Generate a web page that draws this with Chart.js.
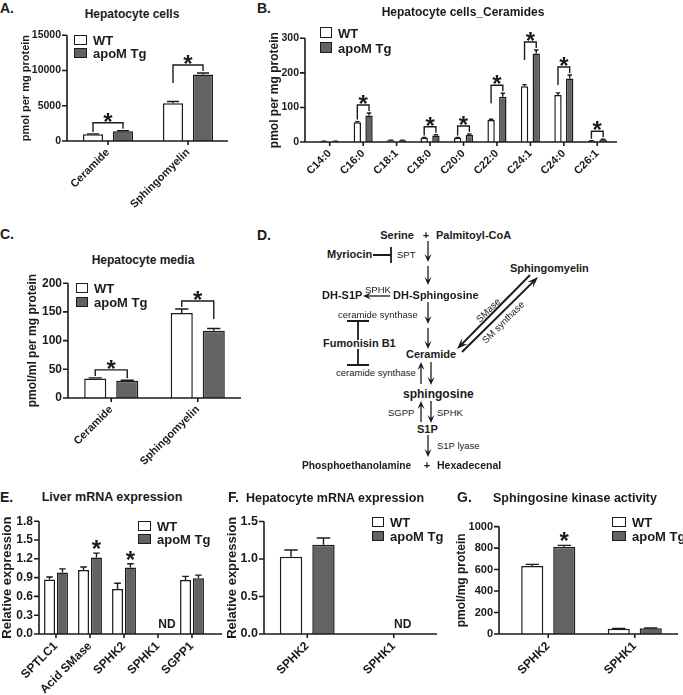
<!DOCTYPE html>
<html>
<head>
<meta charset="utf-8">
<script src="https://cdn.jsdelivr.net/npm/chart.js@4.4.0/dist/chart.umd.min.js"></script>
<style>
  body { margin: 0; background: #fff; width: 683px; height: 695px; position: relative; overflow: hidden;
         font-family: "Liberation Sans", Arial, sans-serif; }
  canvas { position: absolute; }
  .lbl { position: absolute; white-space: nowrap; line-height: 1; color: #1b1b1b; }
  .box { position: absolute; box-sizing: border-box; border: 1.5px solid #1b1b1b; }
  svg { position: absolute; left: 0; top: 0; }
</style>
</head>
<body>
<script>
const INK = '#1b1b1b';
const WT_FILL = '#ffffff';
const TG_FILL = '#636363';
const FONT = '"Liberation Sans", Arial, sans-serif';

// A. Hepatocyte cells
const catsA = ['Ceramide', 'Sphingomyelin'];
const wtA = [950, 5350];
const wtErrA = [60, 250];
const tgA = [1400, 9450];
const tgErrA = [60, 200];
const ticksA = [0, 5000, 10000, 15000];

// B. Hepatocyte cells_Ceramides
const catsB = ['C14:0', 'C16:0', 'C18:1', 'C18:0', 'C20:0', 'C22:0', 'C24:1', 'C24:0', 'C26:1'];
const wtB = [2, 57, 5, 12, 12, 64, 161, 136, 3];
const wtErrB = [0.5, 2, 0.5, 1, 1, 2, 5, 6, 0.5];
const tgB = [2, 77, 5, 19, 21, 131, 256, 184, 7];
const tgErrB = [0.5, 7, 0.5, 2, 2, 10, 10, 10, 1];
const sigB = [1, 3, 4, 5, 6, 7, 8];
const ticksB = [0, 100, 200, 300];

// C. Hepatocyte media
const catsC = ['Ceramide', 'Sphingomyelin'];
const wtC = [34, 148];
const wtErrC = [1, 7];
const tgC = [30, 117];
const tgErrC = [1, 4];
const ticksC = [0, 50, 100, 150, 200];

// E. Liver mRNA expression
const catsE = ['SPTLC1', 'Acid SMase', 'SPHK2', 'SPHK1', 'SGPP1'];
const wtE = [0.87, 1.02, 0.72, null, 0.86];
const wtErrE = [0.04, 0.05, 0.09, null, 0.06];
const tgE = [0.98, 1.22, 1.06, null, 0.89];
const tgErrE = [0.06, 0.07, 0.06, null, 0.05];
const ticksE = [0, 0.3, 0.6, 0.9, 1.2, 1.5, 1.8];

// F. Hepatocyte mRNA expression
const catsF = ['SPHK2', 'SPHK1'];
const wtF = [1.03, null];
const wtErrF = [0.09, null];
const tgF = [1.19, null];
const tgErrF = [0.09, null];
const ticksF = [0, 0.5, 1.0, 1.5];

// G. Sphingosine kinase activity
const catsG = ['SPHK2', 'SPHK1'];
const wtG = [632, 48];
const wtErrG = [16, 3];
const tgG = [813, 53];
const tgErrG = [12, 3];
const ticksG = [0, 200, 400, 600, 800, 1000];

// axes, error bars, brackets, stars, ND
const marks = {
  id: 'marks',
  afterDatasetsDraw(chart, args, o) {
    const ctx = chart.ctx, ys = chart.scales.y, xs = chart.scales.x, a = chart.chartArea;
    const top = (di, j) => {
      const ds = chart.data.datasets[di];
      return ys.getPixelForValue(ds.data[j] + ds.err[j]);
    };
    const star = (x, y) => {
      ctx.font = 'bold 24px ' + FONT;
      ctx.textAlign = 'center';
      ctx.textBaseline = 'alphabetic';
      ctx.fillText('*', x, y + 14);
    };
    ctx.save();
    ctx.strokeStyle = INK;
    ctx.fillStyle = INK;
    ctx.lineWidth = 1.6;
    const x0 = a.left - (o.gapL || 0), x1 = a.right + (o.gapR || 0);
    ctx.beginPath();
    ctx.moveTo(x0, a.top);
    ctx.lineTo(x0, a.bottom);
    ctx.lineTo(x1, a.bottom);
    ys.ticks.forEach(t => {
      const y = ys.getPixelForValue(t.value);
      ctx.moveTo(x0 - 5, y); ctx.lineTo(x0, y);
    });
    xs.ticks.forEach((t, i) => {
      const x = xs.getPixelForTick(i);
      ctx.moveTo(x, a.bottom); ctx.lineTo(x, a.bottom + 4);
    });
    ctx.stroke();

    ctx.lineWidth = 1.4;
    chart.data.datasets.forEach((ds, di) => {
      chart.getDatasetMeta(di).data.forEach((bar, j) => {
        if (ds.data[j] == null) return;
        const yt = top(di, j), hw = bar.width * 0.3;
        ctx.beginPath();
        ctx.moveTo(bar.x, bar.y); ctx.lineTo(bar.x, yt);
        ctx.moveTo(bar.x - hw, yt); ctx.lineTo(bar.x + hw, yt);
        ctx.stroke();
      });
    });

    (o.brackets || []).forEach(j => {
      const b0 = chart.getDatasetMeta(0).data[j], b1 = chart.getDatasetMeta(1).data[j];
      const t0 = top(0, j), t1 = top(1, j);
      const hy = Math.min(t0, t1) - 8;
      ctx.beginPath();
      ctx.moveTo(b0.x, Math.min(t0 - 2, hy + 18));
      ctx.lineTo(b0.x, hy);
      ctx.lineTo(b1.x, hy);
      ctx.lineTo(b1.x, Math.min(t1 - 2, hy + 18));
      ctx.stroke();
      star((b0.x + b1.x) / 2, hy - 7);
    });

    (o.stars || []).forEach(([di, j]) => {
      const b = chart.getDatasetMeta(di).data[j];
      star(b.x, top(di, j) - 10);
    });

    (o.nd || []).forEach(j => {
      ctx.font = 'bold 12px ' + FONT;
      ctx.textAlign = 'center';
      ctx.textBaseline = 'middle';
      ctx.fillText('ND', xs.getPixelForTick(j) + 9, a.bottom - 9);
    });
    ctx.restore();
  }
};

function panel(box, area, cfg) {
  const cv = document.createElement('canvas');
  cv.width = box.w; cv.height = box.h;
  cv.style.left = box.x + 'px'; cv.style.top = box.y + 'px';
  document.body.appendChild(cv);
  const gapL = cfg.gapL || 0;
  new Chart(cv, {
    type: 'bar',
    data: {
      labels: cfg.labels,
      datasets: [
        { label: 'WT', data: cfg.wt, err: cfg.wtErr, backgroundColor: WT_FILL, borderColor: INK, borderWidth: 1.5,
          categoryPercentage: cfg.cat, barPercentage: cfg.bar },
        { label: 'apoM Tg', data: cfg.tg, err: cfg.tgErr, backgroundColor: TG_FILL, borderColor: INK, borderWidth: 1.5,
          categoryPercentage: cfg.cat, barPercentage: cfg.bar }
      ]
    },
    options: {
      responsive: false,
      animation: false,
      layout: { padding: { left: 0, top: area.t - box.y, right: box.x + box.w - area.r, bottom: 0 } },
      plugins: {
        legend: { display: false },
        tooltip: { enabled: false },
        marks: { gapL: gapL, gapR: cfg.gapR || 0, brackets: cfg.brackets, stars: cfg.stars, nd: cfg.nd }
      },
      scales: {
        x: {
          grid: { display: false, drawTicks: false },
          border: { display: false },
          ticks: { color: INK, font: { family: FONT, weight: 'bold', size: cfg.xFont }, autoSkip: false,
                   minRotation: 45, maxRotation: 45, padding: 5 },
          afterFit: s => { s.height = box.y + box.h - area.b; }
        },
        y: {
          min: 0,
          max: cfg.ticks[cfg.ticks.length - 1],
          grid: { display: false, drawTicks: false },
          border: { display: false },
          ticks: { color: INK, font: { family: FONT, weight: 'bold', size: cfg.yFont }, padding: gapL + 6,
                   callback: v => cfg.dec ? v.toFixed(cfg.dec) : String(v) },
          afterBuildTicks: s => { s.ticks = cfg.ticks.map(v => ({ value: v })); },
          title: { display: true, text: cfg.yTitle, color: INK,
                   font: { family: FONT, weight: 'bold', size: cfg.tFont },
                   padding: { top: cfg.titleX - box.x - 0.6 * cfg.tFont, bottom: 0 } },
          afterFit: s => { s.width = area.l - box.x; }
        }
      }
    },
    plugins: [marks]
  });
}

function label(str, x, y, size, opt = {}) {
  const d = document.createElement('div');
  d.className = 'lbl';
  d.textContent = str;
  d.style.font = (opt.weight || 'bold') + ' ' + size + 'px ' + FONT;
  d.style.left = x + 'px';
  d.style.top = y + 'px';
  const tx = opt.left ? '0' : '-50%';
  d.style.transform = 'translate(' + tx + ', -50%)' + (opt.rot ? ' rotate(' + opt.rot + 'deg)' : '');
  document.body.appendChild(d);
}

function legend(x, y, w, h, gap) {
  [[WT_FILL, 'WT'], [TG_FILL, 'apoM Tg']].forEach(([fill, name], i) => {
    const b = document.createElement('div');
    b.className = 'box';
    b.style.left = x + 'px'; b.style.top = (y + i * gap) + 'px';
    b.style.width = w + 'px'; b.style.height = h + 'px';
    b.style.background = fill;
    document.body.appendChild(b);
    label(name, x + w + 6, y + i * gap + h / 2, 13, { left: true });
  });
}

// charts
panel({ x: 0, y: 22, w: 235, h: 200 }, { l: 68, t: 35, r: 228, b: 141 },
  { labels: catsA, wt: wtA, wtErr: wtErrA, tg: tgA, tgErr: tgErrA, ticks: ticksA, cat: 0.75, bar: 0.67,
    gapL: 1, yFont: 10.5, xFont: 11, tFont: 11, titleX: 26, yTitle: 'pmol per mg protein', brackets: [0, 1] });

panel({ x: 262, y: 18, w: 421, h: 200 }, { l: 313, t: 28, r: 614, b: 142 },
  { labels: catsB, wt: wtB, wtErr: wtErrB, tg: tgB, tgErr: tgErrB, ticks: ticksB, cat: 0.7, bar: 0.63,
    gapL: 8, gapR: 3, yFont: 10.5, xFont: 11, tFont: 12, titleX: 275, yTitle: 'pmol per mg protein', brackets: sigB });

panel({ x: 0, y: 270, w: 248, h: 200 }, { l: 68, t: 283, r: 241, b: 398 },
  { labels: catsC, wt: wtC, wtErr: wtErrC, tg: tgC, tgErr: tgErrC, ticks: ticksC, cat: 0.74, bar: 0.69,
    yFont: 12, xFont: 11, tFont: 12, titleX: 33, yTitle: 'pmol/ml per mg protein', brackets: [0, 1] });

panel({ x: -6, y: 508, w: 232, h: 187 }, { l: 39, t: 520, r: 209, b: 634 },
  { labels: catsE, wt: wtE, wtErr: wtErrE, tg: tgE, tgErr: tgErrE, ticks: ticksE, cat: 0.76, bar: 0.85,
    gapR: 13, dec: 1, yFont: 12, xFont: 12, tFont: 13, titleX: 7, yTitle: 'Relative expression',
    stars: [[1, 1], [1, 2]], nd: [3] });

panel({ x: 222, y: 508, w: 230, h: 187 }, { l: 264, t: 521, r: 437, b: 634 },
  { labels: catsF, wt: wtF, wtErr: wtErrF, tg: tgF, tgErr: tgErrF, ticks: ticksF, cat: 0.75, bar: 0.69,
    dec: 1, yFont: 12.5, xFont: 12, tFont: 13, titleX: 232, yTitle: 'Relative expression', nd: [1] });

panel({ x: 450, y: 508, w: 233, h: 187 }, { l: 505, t: 520, r: 678, b: 634 },
  { labels: catsG, wt: wtG, wtErr: wtErrG, tg: tgG, tgErr: tgErrG, ticks: ticksG, cat: 0.74, bar: 0.69,
    gapL: 6, yFont: 11, xFont: 12, tFont: 12, titleX: 462, yTitle: 'pmol/mg protein', stars: [[1, 0]] });

// panel letters and titles
label('A.', 0, 8, 14, { left: true });
label('B.', 257, 8, 14, { left: true });
label('C.', 0, 234, 14, { left: true });
label('D.', 257, 235, 14, { left: true });
label('E.', 0, 497, 14, { left: true });
label('F.', 228, 497, 14, { left: true });
label('G.', 457, 497, 14, { left: true });

label('Hepatocyte cells', 132, 14, 12);
label('Hepatocyte cells_Ceramides', 463, 12, 12);
label('Hepatocyte media', 143, 260, 12);
label('Liver mRNA expression', 112, 497, 12.5);
label('Hepatocyte mRNA expression', 335, 498, 12.5);
label('Sphingosine kinase activity', 575, 498, 12.5);

legend(74, 35, 13, 10, 13);
legend(320, 27, 12, 11, 15);
legend(76, 283, 12, 10, 14);
legend(138, 521, 13, 10, 13);
legend(372, 517, 12, 10, 14);
legend(612, 517, 14, 10, 14);

// D. pathway
label('Serine', 397, 235, 11);
label('+', 426, 235, 11);
label('Palmitoyl-CoA', 436, 235, 11, { left: true });
label('Myriocin', 327, 254, 11, { left: true });
label('SPT', 397, 254, 9.5, { left: true, weight: 'normal' });
label('DH-S1P', 322, 295, 11, { left: true });
label('SPHK', 365, 289, 9.5, { left: true, weight: 'normal' });
label('DH-Sphingosine', 393, 295, 11, { left: true });
label('ceramide synthase', 338, 314, 9.5, { left: true, weight: 'normal' });
label('Fumonisin B1', 323, 343, 11, { left: true });
label('Ceramide', 406, 354, 11, { left: true });
label('ceramide synthase', 336, 372, 9.5, { left: true, weight: 'normal' });
label('sphingosine', 403, 394, 12, { left: true });
label('SGPP', 388, 412, 9.5, { left: true, weight: 'normal' });
label('SPHK', 437, 412, 9.5, { left: true, weight: 'normal' });
label('S1P', 417, 429, 11, { left: true });
label('S1P lyase', 437, 445, 9.5, { left: true, weight: 'normal' });
label('Phosphoethanolamine', 302, 465, 10.2, { left: true });
label('+', 427, 465, 11);
label('Hexadecenal', 437, 465, 10.5, { left: true });
label('Sphingomyelin', 510, 268, 11, { left: true });
label('SMase', 488, 310, 9.5, { weight: 'normal', rot: -45 });
label('SM synthase', 503, 322, 9.5, { weight: 'normal', rot: -45 });

const NS = 'http://www.w3.org/2000/svg';
const svg = document.createElementNS(NS, 'svg');
svg.setAttribute('width', 683);
svg.setAttribute('height', 695);
document.body.appendChild(svg);

function path(d, w) {
  const p = document.createElementNS(NS, 'path');
  p.setAttribute('d', d);
  p.setAttribute('stroke', INK);
  p.setAttribute('stroke-width', w);
  p.setAttribute('fill', 'none');
  svg.appendChild(p);
}
function arrow(x1, y1, x2, y2, w = 1.3, L = 8, W = 3.5) {
  const dx = x2 - x1, dy = y2 - y1, len = Math.hypot(dx, dy);
  const ux = dx / len, uy = dy / len, nx = -uy, ny = ux;
  path('M' + x1 + ',' + y1 + 'L' + (x2 - ux * L * 0.5) + ',' + (y2 - uy * L * 0.5), w);
  const bx = x2 - ux * L, by = y2 - uy * L;
  const nxp = x2 - ux * L * 0.6, nyp = y2 - uy * L * 0.6;
  const poly = document.createElementNS(NS, 'path');
  poly.setAttribute('d', 'M' + x2 + ',' + y2 + 'L' + (bx + nx * W) + ',' + (by + ny * W) +
    'L' + nxp + ',' + nyp + 'L' + (bx - nx * W) + ',' + (by - ny * W) + 'Z');
  poly.setAttribute('fill', INK);
  svg.appendChild(poly);
}

path('M373,255H391M391,247V263', 1.8);
path('M358,340V321M347,321H369', 1.8);
path('M358,349V365M347,365H369', 1.8);
arrow(428, 241, 428, 262);
arrow(428, 266, 428, 285);
arrow(390, 296, 363, 296);
arrow(428, 302, 428, 324);
arrow(428, 328, 428, 349);
arrow(421, 384, 421, 362);
arrow(431, 362, 431, 385);
arrow(421, 422, 421, 401);
arrow(431, 401, 431, 423);
arrow(428, 435, 428, 457);
arrow(530, 275, 457, 349, 2, 11, 4);
arrow(462, 352, 538, 277, 2, 11, 4);
</script>
</body>
</html>
